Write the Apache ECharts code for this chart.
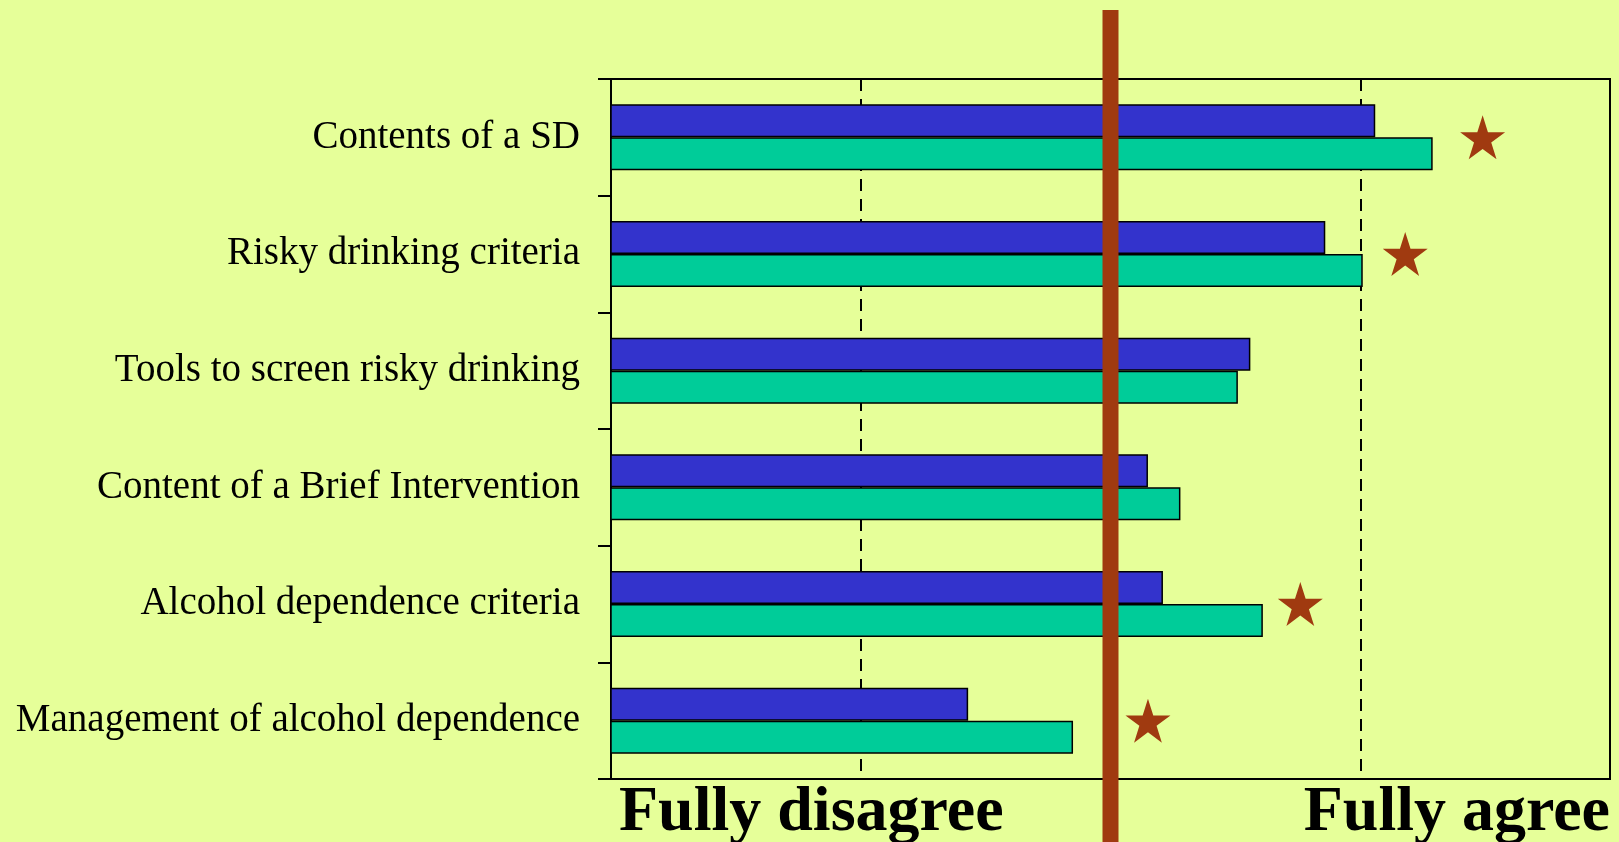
<!DOCTYPE html>
<html>
<head>
<meta charset="utf-8">
<script src="https://cdn.jsdelivr.net/npm/echarts@6/dist/echarts.min.js"></script>
<style>
html,body{margin:0;padding:0;background:#E6FF99;}
#c{width:1619px;height:842px;}
</style>
</head>
<body>
<div id="c"></div>
<script>
const categories = [
  'Contents of a SD',
  'Risky drinking criteria',
  'Tools to screen risky drinking',
  'Content of a Brief Intervention',
  'Alcohol dependence criteria',
  'Management of alcohol dependence'
];
const seriesBlue  = [4.06, 3.86, 3.56, 3.15, 3.21, 2.43];
const seriesGreen = [4.29, 4.01, 3.51, 3.28, 3.61, 2.85];
const starValues  = [4.49, 4.18, null, null, 3.76, 3.15];
const xTickLabels = ['Fully disagree', '', '', '', 'Fully agree'];
const neutralValue = 3;

const starPath = 'path://M50,0 L61.23,34.55 L97.55,34.55 L68.17,55.9 L79.39,90.45 L50,69.1 L20.61,90.45 L31.83,55.9 L2.45,34.55 L38.77,34.55 Z';
const brown = '#A03A10';

const chart = echarts.init(document.getElementById('c'));
const starData = [];
starValues.forEach((v, i) => { if (v !== null) starData.push([v, categories[i]]); });

chart.setOption({
  backgroundColor: '#E6FF99',
  animation: false,
  grid: {left: 611, right: 9, top: 79, bottom: 63, outerBoundsMode: 'none', containLabel: false,
         show: true, borderColor: '#000', borderWidth: 2, backgroundColor: 'transparent'},
  xAxis: {
    type: 'value', min: 1, max: 5, interval: 1,
    axisLine: {show: true, lineStyle: {color: '#000', width: 2}},
    axisTick: {show: false},
    splitLine: {show: true, lineStyle: {color: '#000', width: 2, type: [12, 8]}},
    axisLabel: {
      show: true, showMinLabel: true, showMaxLabel: true,
      alignMinLabel: 'left', alignMaxLabel: 'right',
      margin: 2, verticalAlign: 'top', padding: [0, 0, 0, 8],
      fontFamily: 'Liberation Serif', fontWeight: 'bold', fontSize: 64, color: '#000',
      formatter: v => xTickLabels[Math.round(v) - 1] || ''
    }
  },
  yAxis: {
    type: 'category', inverse: true, data: categories,
    axisLine: {show: true, lineStyle: {color: '#000', width: 2}},
    axisTick: {show: true, inside: false, length: 13, lineStyle: {color: '#000', width: 2}},
    splitLine: {show: false},
    axisLabel: {fontFamily: 'Liberation Serif', fontSize: 39, color: '#000', margin: 31, padding: [6, 0, 0, 0]}
  },
  series: [
    {type: 'bar', data: seriesBlue, barWidth: 33, barGap: '0%',
     itemStyle: {color: '#3333CC', borderColor: '#000', borderWidth: 1.5}, z: 2},
    {type: 'bar', data: seriesGreen, barWidth: 33, barGap: '0%',
     itemStyle: {color: '#00CC99', borderColor: '#000', borderWidth: 1.5}, z: 2},
    {type: 'scatter', data: starData, symbol: starPath, symbolSize: [45, 44],
     itemStyle: {color: brown, opacity: 1}, z: 10}
  ]
});

const px = chart.convertToPixel({xAxisIndex: 0}, neutralValue);
chart.setOption({
  graphic: [{
    type: 'rect', z: 5, silent: true,
    shape: {x: px - 8, y: 10, width: 16, height: 842},
    style: {fill: brown}
  }]
});
</script>
</body>
</html>
